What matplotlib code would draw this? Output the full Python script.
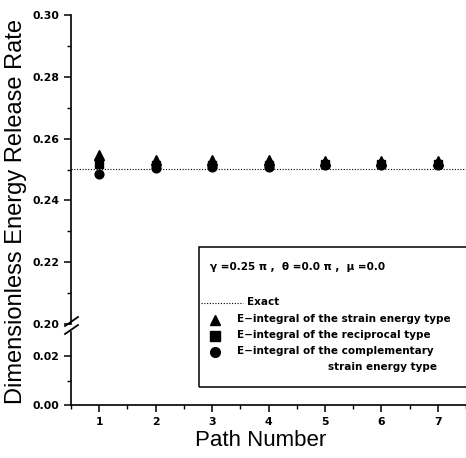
import matplotlib
matplotlib.use('Agg')
import matplotlib.pyplot as plt
from matplotlib.lines import Line2D
from matplotlib.patches import Rectangle
from matplotlib.ticker import MultipleLocator, FormatStrFormatter

# ---- data ----
path_number = [1, 2, 3, 4, 5, 6, 7]
exact_value = 0.2502
strain_type = [0.2547, 0.2532, 0.2531, 0.2531, 0.2528, 0.2528, 0.2529]
reciprocal_type = [0.2517, 0.2516, 0.2516, 0.2516, 0.2517, 0.2517, 0.2518]
complementary_type = [0.2487, 0.2506, 0.2507, 0.2507, 0.2515, 0.2515, 0.2516]
legend_title = 'γ =0.25 π ,  θ =0.0 π ,  μ =0.0'
legend_labels = ['Exact',
                 'E\u2212integral of the strain energy type',
                 'E\u2212integral of the reciprocal type',
                 'E\u2212integral of the complementary']
legend_label_tail = 'strain energy type'

W, H = 466, 458


def fx(px):
    return px / W


def fy(py):
    return 1 - py / H


fig = plt.figure(figsize=(W / 100, H / 100), dpi=100)
ax_top = fig.add_axes([fx(71), fy(324), (W - 71) / W, (324 - 15) / H])
ax_bot = fig.add_axes([fx(71), fy(405), (W - 71) / W, (405 - 332) / H])

tick_font = dict(family='DejaVu Sans', weight='bold', size=7.8)

for ax in (ax_top, ax_bot):
    ax.set_xlim(0.5, 7.5)
    for s in ('top', 'right'):
        ax.spines[s].set_visible(False)
    ax.spines['left'].set_linewidth(1.2)
    ax.spines['bottom'].set_linewidth(1.2)
    ax.tick_params(which='major', direction='out', length=5, width=1.1)
    ax.tick_params(which='minor', direction='out', length=3, width=1.0)
    ax.xaxis.set_major_locator(MultipleLocator(1))
    ax.xaxis.set_minor_locator(MultipleLocator(0.5))
    ax.patch.set_alpha(0)

# top part: 0.20 - 0.30
ax_top.set_ylim(0.20, 0.30)
ax_top.yaxis.set_major_locator(MultipleLocator(0.02))
ax_top.yaxis.set_minor_locator(MultipleLocator(0.01))
ax_top.yaxis.set_major_formatter(FormatStrFormatter('%.2f'))
ax_top.spines['bottom'].set_visible(False)
ax_top.tick_params(axis='x', which='both', bottom=False, labelbottom=False)

# bottom part: 0.00 - ~0.03
ax_bot.set_ylim(0.0, 0.0298)
ax_bot.yaxis.set_major_locator(MultipleLocator(0.02))
ax_bot.yaxis.set_minor_locator(MultipleLocator(0.01))
ax_bot.yaxis.set_major_formatter(FormatStrFormatter('%.2f'))

for ax in (ax_top, ax_bot):
    for lab in ax.get_yticklabels() + ax.get_xticklabels():
        lab.set(**tick_font)

# data
ax_top.axhline(exact_value, color='black', ls=(0, (1, 1.5)), lw=0.8)
ax_top.plot(path_number, complementary_type, 'o', color='black', ms=6.3, clip_on=False)
ax_top.plot(path_number, reciprocal_type, 's', color='black', ms=5.5, clip_on=False)
ax_top.plot(path_number, strain_type, '^', color='black', ms=6.8, clip_on=False)

# axis break marks
for y0 in (326, 334):
    fig.add_artist(Line2D([fx(65), fx(78)], [fy(y0), fy(y0 - 9)], color='black', lw=1.3))

# axis labels
fig.text(fx(16), fy(212), 'Dimensionless Energy Release Rate', rotation=90,
         ha='center', va='center', family='Liberation Sans', size=17)
fig.text(fx(261), fy(440), 'Path Number', ha='center', va='center',
         family='Liberation Sans', size=16)

# legend box
fig.add_artist(Rectangle((fx(199), fy(387)), (W + 5 - 199) / W, (387 - 247) / H,
                         transform=fig.transFigure, fill=False, lw=1.1,
                         edgecolor='black', clip_on=False))
leg_font = dict(family='DejaVu Sans', weight='bold', size=7.5, va='center')
fig.text(fx(210), fy(267), legend_title, **leg_font)
fig.add_artist(Line2D([fx(201), fx(243)], [fy(303), fy(303)], color='black',
                      ls=(0, (1, 1.5)), lw=0.8))
fig.text(fx(247), fy(302), legend_labels[0], **leg_font)
rows = [(320, '^', 7.5), (336, 's', 6.5), (352, 'o', 7)]
for (yy, mk, ms), lab in zip(rows, legend_labels[1:]):
    fig.add_artist(Line2D([fx(215)], [fy(yy)], marker=mk, ms=ms, color='black', ls='none'))
    fig.text(fx(237), fy(yy - 1), lab, **leg_font)
fig.text(fx(437), fy(367), legend_label_tail, ha='right', **leg_font)

fig.savefig('out.png', dpi=100)
